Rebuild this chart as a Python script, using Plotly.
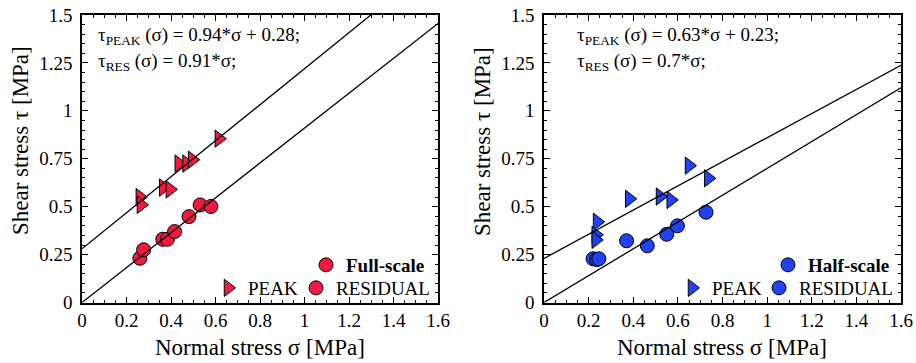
import plotly.graph_objects as go

# ---------------- data ----------------
x_tick_vals = [0, 0.2, 0.4, 0.6, 0.8, 1.0, 1.2, 1.4, 1.6]
x_tick_text = ["0", "0.2", "0.4", "0.6", "0.8", "1", "1.2", "1.4", "1.6"]
y_tick_vals = [0, 0.25, 0.5, 0.75, 1.0, 1.25, 1.5]
y_tick_text = ["0", "0.25", "0.5", "0.75", "1", "1.25", "1.5"]

full_peak_sigma = [0.26, 0.265, 0.365, 0.395, 0.435, 0.47, 0.495, 0.615]
full_peak_tau = [0.55, 0.51, 0.60, 0.59, 0.725, 0.725, 0.745, 0.855]
full_res_sigma = [0.26, 0.277, 0.363, 0.384, 0.416, 0.481, 0.531, 0.579]
full_res_tau = [0.231, 0.275, 0.330, 0.330, 0.370, 0.448, 0.509, 0.501]

half_peak_sigma = [0.238, 0.232, 0.232, 0.382, 0.520, 0.568, 0.650, 0.736]
half_peak_tau = [0.421, 0.353, 0.327, 0.541, 0.553, 0.535, 0.714, 0.648]
half_res_sigma = [0.22, 0.236, 0.246, 0.370, 0.463, 0.550, 0.598, 0.726]
half_res_tau = [0.228, 0.224, 0.228, 0.322, 0.296, 0.356, 0.400, 0.471]

full_peak_fit = [0.94, 0.28]   # slope, intercept
full_res_fit = [0.91, 0.0]
half_peak_fit = [0.63, 0.23]
half_res_fit = [0.7, 0.0]
fit_sigma = [0, 1.6]

RED = "#f01a40"
BLUE = "#2142f2"
FONT = "Liberation Serif"
W, H = 916, 363

fig = go.Figure()


def add_panel(xa, ya, color, peak_s, peak_t, res_s, res_t, pfit, rfit, label, lgs):
    fig.add_trace(go.Scatter(
        x=[None], y=[None], mode="markers", name="<b>%s</b>" % label,
        marker=dict(symbol="circle", size=14, color=color, line=dict(color="black", width=1)),
        xaxis=xa, yaxis=ya, legend=lgs[0], showlegend=True))
    fig.add_trace(go.Scatter(
        x=peak_s, y=peak_t, mode="markers", name="PEAK",
        marker=dict(symbol="triangle-right", size=15, color=color, line=dict(color="black", width=1)),
        xaxis=xa, yaxis=ya, legend=lgs[1]))
    fig.add_trace(go.Scatter(
        x=res_s, y=res_t, mode="markers", name="RESIDUAL",
        marker=dict(symbol="circle", size=14, color=color, line=dict(color="black", width=1)),
        xaxis=xa, yaxis=ya, legend=lgs[2]))
    for f in (pfit, rfit):
        fig.add_trace(go.Scatter(
            x=fit_sigma, y=[f[0] * s + f[1] for s in fit_sigma], mode="lines",
            line=dict(color="black", width=1.3), showlegend=False,
            xaxis=xa, yaxis=ya, hoverinfo="skip"))


add_panel("x", "y", RED, full_peak_sigma, full_peak_tau, full_res_sigma, full_res_tau,
          full_peak_fit, full_res_fit, "Full-scale", ["legend", "legend2", "legend3"])
add_panel("x2", "y2", BLUE, half_peak_sigma, half_peak_tau, half_res_sigma, half_res_tau,
          half_peak_fit, half_res_fit, "Half-scale", ["legend4", "legend5", "legend6"])

axis_common = dict(
    showline=True, linecolor="black", linewidth=1.5, mirror="allticks",
    ticks="inside", ticklen=6, tickwidth=1, tickcolor="black",
    minor=dict(ticks="inside", ticklen=3, tickwidth=1, tickcolor="black", dtick=0.05),
    showgrid=False, zeroline=False, fixedrange=True, automargin=False,
    tickfont=dict(family=FONT, size=19, color="black"),
)

ydom = [1 - 302.5 / H, 1 - 15 / H]
fig.update_layout(
    width=W, height=H, margin=dict(l=0, r=0, t=0, b=0, autoexpand=False),
    paper_bgcolor="white", plot_bgcolor="white",
    font=dict(family=FONT, size=19, color="black"),
    xaxis=dict(domain=[82 / W, 438 / W], range=[0, 1.6], tickvals=x_tick_vals, ticktext=x_tick_text,
               anchor="y", **axis_common),
    yaxis=dict(domain=ydom, range=[0, 1.5], tickvals=y_tick_vals, ticktext=y_tick_text,
               anchor="x", ticklabelstandoff=4, **axis_common),
    xaxis2=dict(domain=[544 / W, 901 / W], range=[0, 1.6], tickvals=x_tick_vals, ticktext=x_tick_text,
                anchor="y2", **axis_common),
    yaxis2=dict(domain=ydom, range=[0, 1.5], tickvals=y_tick_vals, ticktext=y_tick_text,
                anchor="x2", ticklabelstandoff=4, **axis_common),
    showlegend=True,
)

leg_common = dict(bgcolor="rgba(0,0,0,0)", borderwidth=0, font=dict(family=FONT, size=19, color="black"),
                  xref="paper", yref="paper", xanchor="left", yanchor="middle", itemwidth=30,
                  orientation="h")
# (symbol centre x, row centre y) in pixels -> legend placement
leg_pos = {
    "legend": (326, 265), "legend2": (228, 288), "legend3": (316, 288),
    "legend4": (788, 265), "legend5": (692, 288), "legend6": (779, 288),
}
fig.update_layout(**{k: dict(x=(px - 20) / W, y=1 - py / H, **leg_common) for k, (px, py) in leg_pos.items()})


def eq_text(name, fit):
    s = "τ<sub>%s</sub> (σ) = %s*σ" % (name, ("%g" % fit[0]))
    if fit[1]:
        s += " + %g" % fit[1]
    return s + ";"


ann = []
for x0, pf, rf in ((96 / W, full_peak_fit, full_res_fit), (575 / W, half_peak_fit, half_res_fit)):
    ann.append(dict(x=x0, y=1 - 36 / H, text=eq_text("PEAK", pf)))
    ann.append(dict(x=x0, y=1 - 62 / H, text=eq_text("RES", rf)))
for a in ann:
    a.update(xref="paper", yref="paper", xanchor="left", yanchor="middle", showarrow=False,
             font=dict(family=FONT, size=19, color="black"))

titles = [
    dict(x=260 / W, y=1 - 347 / H, text="Normal stress σ [MPa]", textangle=0),
    dict(x=722 / W, y=1 - 347 / H, text="Normal stress σ [MPa]", textangle=0),
    dict(x=20 / W, y=1 - 141 / H, text="Shear stress τ [MPa]", textangle=-90),
    dict(x=482 / W, y=1 - 141 / H, text="Shear stress τ [MPa]", textangle=-90),
]
for t in titles:
    t.update(xref="paper", yref="paper", xanchor="center", yanchor="middle", showarrow=False,
             font=dict(family=FONT, size=23, color="black"))
fig.update_layout(annotations=ann + titles)

fig.write_html("out.html")
